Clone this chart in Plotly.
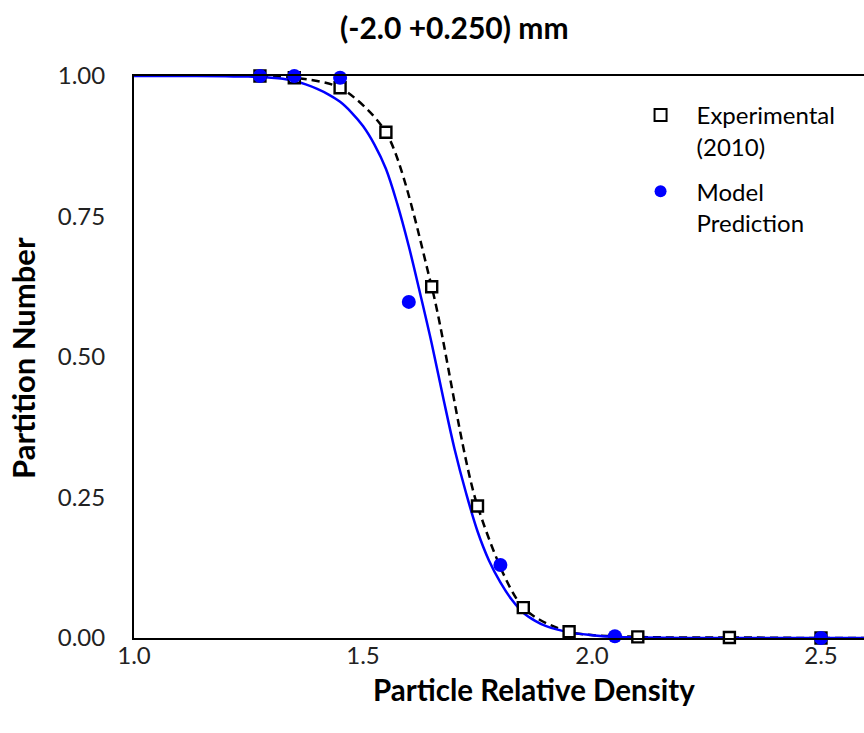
import plotly.graph_objects as go

# Experimental partition data (2010)
exp_x = [1.275, 1.35, 1.45, 1.55, 1.65, 1.75, 1.85, 1.95, 2.10, 2.30, 2.50, 2.70]
exp_y = [1.000, 0.997, 0.979, 0.900, 0.625, 0.235, 0.054, 0.011, 0.002, 0.001, 0.000, 0.000]

# Model prediction points
mod_x = [1.275, 1.35, 1.45, 1.60, 1.80, 2.05, 2.50]
mod_y = [1.000, 1.000, 0.997, 0.598, 0.130, 0.003, 0.000]

# Model curve
curve_x = [1.0, 1.1, 1.2, 1.225, 1.25, 1.275, 1.3, 1.325, 1.35, 1.375, 1.4, 1.425, 1.45,
           1.475, 1.5, 1.525, 1.55, 1.575, 1.6, 1.625, 1.65, 1.675, 1.7, 1.725, 1.75,
           1.775, 1.8, 1.825, 1.85, 1.875, 1.9, 1.95, 2.0, 2.05, 2.1, 2.2, 2.4, 2.6]
curve_y = [1.0, 1.0, 0.9995, 0.9992, 0.999, 0.998, 0.997, 0.995, 0.991, 0.985, 0.977, 0.967, 0.954,
           0.935, 0.911, 0.878, 0.835, 0.772, 0.697, 0.612, 0.524, 0.428, 0.336, 0.258, 0.190,
           0.138, 0.099, 0.068, 0.045, 0.031, 0.021, 0.010, 0.005, 0.002, 0.001, 0.0, 0.0, 0.0]

FONT = "Lato"
BLUE = "#0000FF"

fig = go.Figure()

# dashed smoothed line through experimental points
fig.add_trace(go.Scatter(x=exp_x, y=exp_y, mode="lines", showlegend=False,
                         line=dict(color="black", width=2.5, dash="8px,5px", shape="spline", smoothing=0.8),
                         hoverinfo="skip"))
# model curve
fig.add_trace(go.Scatter(x=curve_x, y=curve_y, mode="lines", showlegend=False,
                         line=dict(color=BLUE, width=2.5, shape="spline", smoothing=1.0),
                         hoverinfo="skip"))
# experimental markers
fig.add_trace(go.Scatter(x=exp_x, y=exp_y, mode="markers", name="Experimental<br>(2010)",
                         legendgroup="exp",
                         marker=dict(symbol="square", size=11, color="white",
                                     line=dict(color="black", width=2.4)),
                         cliponaxis=False))
# model markers
fig.add_trace(go.Scatter(x=mod_x, y=mod_y, mode="markers", name="Model<br>Prediction",
                         legendgroup="mod",
                         marker=dict(symbol="circle", size=14, color=BLUE, line=dict(width=0)),
                         cliponaxis=False))

fig.update_layout(
    width=864, height=733,
    margin=dict(l=134, r=0, t=76, b=95),
    paper_bgcolor="white", plot_bgcolor="white",
    font=dict(family=FONT, color="black", size=24),
    showlegend=True,
    legend=dict(x=0.672, y=0.97, xanchor="left", yanchor="top",
                bgcolor="rgba(0,0,0,0)", borderwidth=0, valign="top",
                itemwidth=62,
                font=dict(family=FONT, size=24, color="black"),
                tracegroupgap=11, itemsizing="constant"),
    xaxis=dict(range=[1.0, 1.0 + 730 / 458], tickvals=[1.0, 1.5, 2.0, 2.5],
               ticktext=["1.0", "1.5", "2.0", "2.5"],
               showgrid=False, zeroline=False, showline=True, linecolor="black",
               linewidth=2, mirror=True, ticks="", ticklabelstandoff=-5,
               tickfont=dict(family=FONT, size=24, color="#222")),
    yaxis=dict(range=[0, 1], tickvals=[0, 0.25, 0.5, 0.75, 1.0],
               ticktext=["0.00", "0.25", "0.50", "0.75", "1.00"],
               showgrid=False, zeroline=False, showline=True, linecolor="black",
               linewidth=2, mirror=False, ticks="", ticklabelstandoff=22,
               tickfont=dict(family=FONT, size=24, color="#222")),
    annotations=[
        dict(text="<b>(-2.0 +0.250) mm</b>", xref="paper", yref="paper",
             x=(454 - 134) / 730, y=1 + (76 - 27) / 562, xanchor="center", yanchor="middle",
             showarrow=False, font=dict(family=FONT, size=30, color="black")),
        dict(text="<b>Particle Relative Density</b>", xref="paper", yref="paper",
             x=(534 - 134) / 730, y=-(689 - 638) / 562, xanchor="center", yanchor="middle",
             showarrow=False, font=dict(family=FONT, size=29.5, color="black")),
        dict(text="<b>Partition Number</b>", xref="paper", yref="paper",
             x=-(134 - 23) / 730, y=(638 - 358) / 562, xanchor="center", yanchor="middle",
             textangle=-90, showarrow=False, font=dict(family=FONT, size=31, color="black")),
    ],
)

fig.write_html("out.html")
